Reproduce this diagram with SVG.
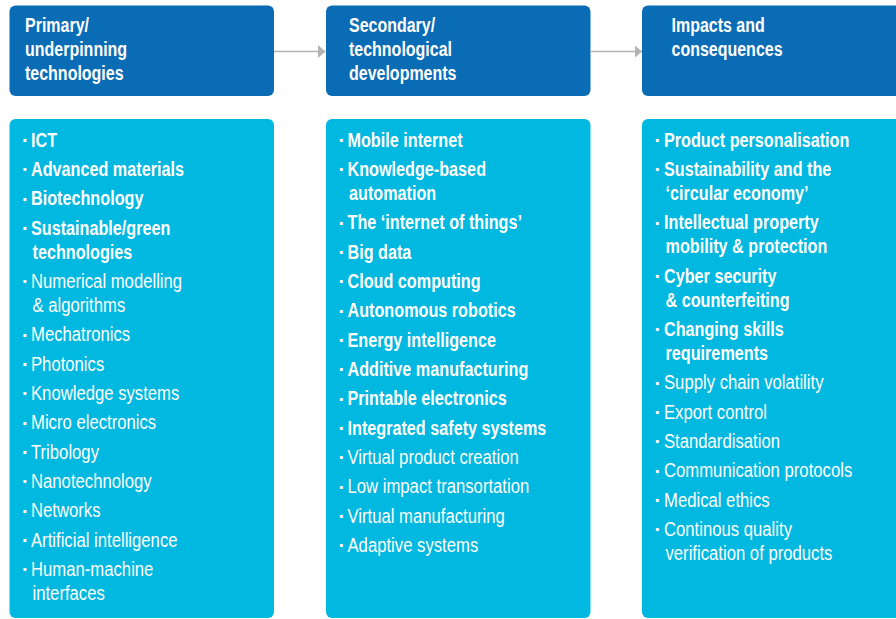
<svg xmlns="http://www.w3.org/2000/svg" width="896" height="619" viewBox="0 0 896 619">
  <defs>
    <style>
      .head { fill: #0b6cb6; }
      .list { fill: #00b8e0; }
      text { font-family: "Liberation Sans", Arial, sans-serif; fill: #ffffff; font-size: 20px; transform-box: fill-box; transform-origin: 0 0; }
      .ht { font-weight: bold; font-size: 19.5px; transform: scaleX(0.82); }
      .b { font-weight: bold; transform: scaleX(0.81); }
      .r { font-weight: normal; transform: scaleX(0.835); }
      .dot { font-weight: bold; }
      .conn { stroke: #b3b3b3; stroke-width: 1.5; fill: none; }
    </style>
    <marker id="arrow" markerUnits="userSpaceOnUse" markerWidth="8" markerHeight="13" refX="7.5" refY="6.5" orient="auto">
      <path d="M0,0 L7.5,6.5 L0,13 Z" fill="#b3b3b3"/>
    </marker>
  </defs>

  <!-- column headers -->
  <g id="head-primary">
    <rect class="head" x="9.5" y="5.5" width="264.5" height="90.5" rx="6"/>
    <text class="ht" x="25" y="32">Primary/</text>
    <text class="ht" x="25" y="56">underpinning</text>
    <text class="ht" x="25" y="80">technologies</text>
  </g>
  <g id="head-secondary">
    <rect class="head" x="326" y="5.5" width="264.5" height="90.5" rx="6"/>
    <text class="ht" x="349" y="32">Secondary/</text>
    <text class="ht" x="349" y="56">technological</text>
    <text class="ht" x="349" y="80">developments</text>
  </g>
  <g id="head-impacts">
    <rect class="head" x="642" y="5.5" width="264" height="90.5" rx="6"/>
    <text class="ht" x="671.5" y="32">Impacts and</text>
    <text class="ht" x="671.5" y="56">consequences</text>
  </g>

  <!-- connectors between headers -->
  <g id="connectors">
    <line class="conn" x1="274" y1="51.5" x2="325.5" y2="51.5" marker-end="url(#arrow)"/>
    <line class="conn" x1="590.5" y1="51.5" x2="642" y2="51.5" marker-end="url(#arrow)"/>
  </g>

  <!-- primary / underpinning technologies -->
  <g id="list-primary">
    <rect class="list" x="9.5" y="119" width="264.5" height="499" rx="6"/>
    <g class="bullets">
      <text class="dot" x="22" y="147">·</text>
      <text class="dot" x="22" y="176">·</text>
      <text class="dot" x="22" y="205.5">·</text>
      <text class="dot" x="22" y="235">·</text>
      <text class="dot" x="22" y="288">·</text>
      <text class="dot" x="22" y="341.5">·</text>
      <text class="dot" x="22" y="371">·</text>
      <text class="dot" x="22" y="400">·</text>
      <text class="dot" x="22" y="429.5">·</text>
      <text class="dot" x="22" y="459">·</text>
      <text class="dot" x="22" y="488">·</text>
      <text class="dot" x="22" y="517.5">·</text>
      <text class="dot" x="22" y="547">·</text>
      <text class="dot" x="22" y="576">·</text>
    </g>
    <text class="b" x="31" y="147">ICT</text>
    <text class="b" x="31" y="176">Advanced materials</text>
    <text class="b" x="31" y="205.5">Biotechnology</text>
    <text class="b" x="31" y="235">Sustainable/green</text>
    <text class="b" x="32.5" y="259">technologies</text>
    <text class="r" x="31" y="288">Numerical modelling</text>
    <text class="r" x="32.5" y="312">&amp; algorithms</text>
    <text class="r" x="31" y="341.5">Mechatronics</text>
    <text class="r" x="31" y="371">Photonics</text>
    <text class="r" x="31" y="400">Knowledge systems</text>
    <text class="r" x="31" y="429.5">Micro electronics</text>
    <text class="r" x="31" y="459">Tribology</text>
    <text class="r" x="31" y="488">Nanotechnology</text>
    <text class="r" x="31" y="517.5">Networks</text>
    <text class="r" x="31" y="547">Artificial intelligence</text>
    <text class="r" x="31" y="576">Human-machine</text>
    <text class="r" x="32.5" y="600">interfaces</text>
  </g>

  <!-- secondary / technological developments -->
  <g id="list-secondary">
    <rect class="list" x="326" y="119" width="264.5" height="499" rx="6"/>
    <g class="bullets">
      <text class="dot" x="338.5" y="147">·</text>
      <text class="dot" x="338.5" y="176">·</text>
      <text class="dot" x="338.5" y="229.5">·</text>
      <text class="dot" x="338.5" y="259">·</text>
      <text class="dot" x="338.5" y="288">·</text>
      <text class="dot" x="338.5" y="317.5">·</text>
      <text class="dot" x="338.5" y="347">·</text>
      <text class="dot" x="338.5" y="376">·</text>
      <text class="dot" x="338.5" y="405.5">·</text>
      <text class="dot" x="338.5" y="435">·</text>
      <text class="dot" x="338.5" y="464">·</text>
      <text class="dot" x="338.5" y="493.5">·</text>
      <text class="dot" x="338.5" y="523">·</text>
      <text class="dot" x="338.5" y="552">·</text>
    </g>
    <text class="b" x="347.5" y="147">Mobile internet</text>
    <text class="b" x="347.5" y="176">Knowledge-based</text>
    <text class="b" x="349" y="200">automation</text>
    <text class="b" x="347.5" y="229.5">The ‘internet of things’</text>
    <text class="b" x="347.5" y="259">Big data</text>
    <text class="b" x="347.5" y="288">Cloud computing</text>
    <text class="b" x="347.5" y="317.5">Autonomous robotics</text>
    <text class="b" x="347.5" y="347">Energy intelligence</text>
    <text class="b" x="347.5" y="376">Additive manufacturing</text>
    <text class="b" x="347.5" y="405.5">Printable electronics</text>
    <text class="b" x="347.5" y="435">Integrated safety systems</text>
    <text class="r" x="347.5" y="464">Virtual product creation</text>
    <text class="r" x="347.5" y="493.5">Low impact transortation</text>
    <text class="r" x="347.5" y="523">Virtual manufacturing</text>
    <text class="r" x="347.5" y="552">Adaptive systems</text>
  </g>

  <!-- impacts and consequences -->
  <g id="list-impacts">
    <rect class="list" x="642" y="119" width="264" height="499" rx="6"/>
    <g class="bullets">
      <text class="dot" x="654.5" y="147">·</text>
      <text class="dot" x="654.5" y="176">·</text>
      <text class="dot" x="654.5" y="229.5">·</text>
      <text class="dot" x="654.5" y="283">·</text>
      <text class="dot" x="654.5" y="336">·</text>
      <text class="dot" x="654.5" y="389.5">·</text>
      <text class="dot" x="654.5" y="419">·</text>
      <text class="dot" x="654.5" y="448">·</text>
      <text class="dot" x="654.5" y="477.5">·</text>
      <text class="dot" x="654.5" y="507">·</text>
      <text class="dot" x="654.5" y="536">·</text>
    </g>
    <text class="b" x="664" y="147">Product personalisation</text>
    <text class="b" x="664" y="176">Sustainability and the</text>
    <text class="b" x="665.5" y="200">‘circular economy’</text>
    <text class="b" x="664" y="229.5">Intellectual property</text>
    <text class="b" x="665.5" y="253.5">mobility &amp; protection</text>
    <text class="b" x="664" y="283">Cyber security</text>
    <text class="b" x="665.5" y="307">&amp; counterfeiting</text>
    <text class="b" x="664" y="336">Changing skills</text>
    <text class="b" x="665.5" y="360">requirements</text>
    <text class="r" x="664" y="389.5">Supply chain volatility</text>
    <text class="r" x="664" y="419">Export control</text>
    <text class="r" x="664" y="448">Standardisation</text>
    <text class="r" x="664" y="477.5">Communication protocols</text>
    <text class="r" x="664" y="507">Medical ethics</text>
    <text class="r" x="664" y="536">Continous quality</text>
    <text class="r" x="665.5" y="560">verification of products</text>
  </g>
</svg>
